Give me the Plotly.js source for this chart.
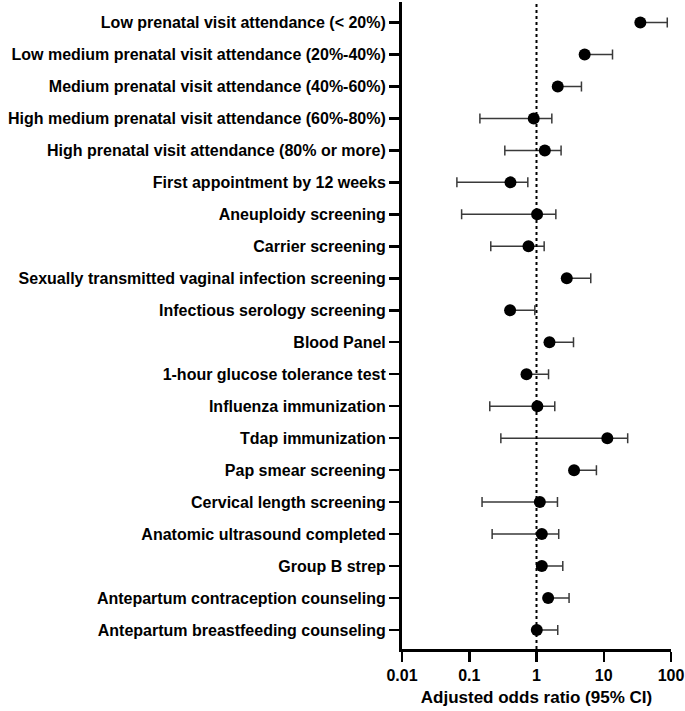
<!DOCTYPE html>
<html><head><meta charset="utf-8">
<script src="https://cdn.plot.ly/plotly-3.0.1.min.js"></script>
<style>html,body{margin:0;padding:0;background:#fff}#chart{width:685px;height:711px}</style>
</head><body><div id="chart"></div>
<script>
const categories = [
  "Low prenatal visit attendance (< 20%)",
  "Low medium prenatal visit attendance (20%-40%)",
  "Medium prenatal visit attendance (40%-60%)",
  "High medium prenatal visit attendance (60%-80%)",
  "High prenatal visit attendance (80% or more)",
  "First appointment by 12 weeks",
  "Aneuploidy screening",
  "Carrier screening",
  "Sexually transmitted vaginal infection screening",
  "Infectious serology screening",
  "Blood Panel",
  "1-hour glucose tolerance test",
  "Influenza immunization",
  "Tdap immunization",
  "Pap smear screening",
  "Cervical length screening",
  "Anatomic ultrasound completed",
  "Group B strep",
  "Antepartum contraception counseling",
  "Antepartum breastfeeding counseling"
];
const oddsRatio = [35, 5.2, 2.07, 0.91, 1.33, 0.41, 1.02, 0.76, 2.82, 0.405, 1.56, 0.71, 1.03, 11.3, 3.62, 1.12, 1.2, 1.2, 1.49, 1.01];
const ciUpper  = [88, 13.5, 4.66, 1.69, 2.32, 0.743, 1.94, 1.30, 6.41, 0.944, 3.55, 1.51, 1.87, 22.7, 7.78, 2.05, 2.14, 2.46, 3.05, 2.07];
// lower limits; where no lower whisker is drawn the value equals the odds ratio
const ciLower  = [35, 5.2, 2.07, 0.144, 0.338, 0.0655, 0.077, 0.209, 2.82, 0.405, 1.56, 0.71, 0.202, 0.295, 3.62, 0.155, 0.219, 1.2, 1.49, 1.01];
const xTickVals = [0.01, 0.1, 1, 10, 100];
const xTickText = ["0.01", "0.1", "1", "10", "100"];
const refValue = 1;

const plus = oddsRatio.map((v, i) => ciUpper[i] - v);
const minus = oddsRatio.map((v, i) => v - ciLower[i]);

const font = {family: "Liberation Sans, Arial, Helvetica, sans-serif", color: "#000"};

const traces = [
  {
    type: "scatter", mode: "lines",
    x: [refValue, refValue], y: [0, 1], yaxis: "y2",
    line: {color: "#000", width: 2, dash: "dot"},
    hoverinfo: "skip", showlegend: false
  },
  {
    type: "scatter", mode: "markers",
    x: oddsRatio, y: categories,
    marker: {color: "#000", size: 12},
    error_x: {type: "data", symmetric: false, array: plus, arrayminus: minus,
              color: "#3a3a3a", thickness: 1.5, width: 5},
    showlegend: false
  }
];

const layout = {
  width: 685, height: 711,
  margin: {l: 402, r: 14, t: 2, b: 62},
  paper_bgcolor: "#fff", plot_bgcolor: "#fff",
  showlegend: false,
  xaxis: {
    type: "log", range: [-2, 2],
    tickvals: xTickVals, ticktext: xTickText,
    ticks: "outside", ticklen: 10, tickwidth: 2.5, tickcolor: "#000",
    showline: true, linewidth: 3, linecolor: "#000",
    showgrid: false, zeroline: false,
    tickfont: Object.assign({size: 16, weight: "bold"}, font),
    title: {text: "Adjusted odds ratio (95% CI)", font: Object.assign({size: 17, weight: "bold"}, font), standoff: 8}
  },
  yaxis: {
    type: "category", categoryorder: "array", categoryarray: categories,
    range: [19.594, -0.641], autorange: false,
    ticks: "outside", ticklen: 10, tickwidth: 2.5, tickcolor: "#000",
    showline: true, linewidth: 3, linecolor: "#000",
    showgrid: false, zeroline: false,
    tickfont: Object.assign({size: 16, weight: "bold"}, font)
  },
  yaxis2: {
    overlaying: "y", range: [0, 1], visible: false, fixedrange: true
  }
};

Plotly.newPlot("chart", traces, layout, {displayModeBar: false, staticPlot: true});
</script></body></html>
